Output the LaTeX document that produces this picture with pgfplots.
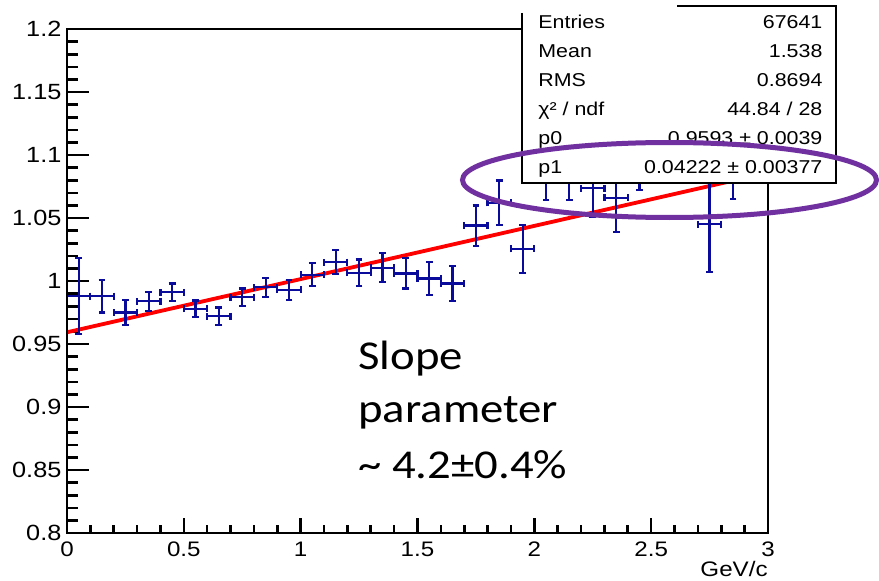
\documentclass[border=0pt]{standalone}
\usepackage{fontspec}
\usepackage{pgfplots}
\usepackage{pgfplotstable}
\pgfplotsset{compat=1.18}
\setmainfont{Liberation Sans}
\newfontfamily\rootfont[FakeStretch=1.15]{Liberation Sans}
\newfontfamily\slidefont[FakeStretch=1.14]{Carlito}
\definecolor{rootblue}{RGB}{10,10,155}
\definecolor{fitred}{RGB}{255,0,0}
\definecolor{markpurple}{RGB}{112,48,160}

% ratio per 0.1 GeV/c bin: centre, value, half bin width, stat. error
\pgfplotstableread{
x     y       ex    ey
0.05  0.988   0.05  0.030
0.15  0.988   0.05  0.013
0.25  0.975   0.05  0.010
0.35  0.984   0.05  0.0075
0.45  0.991   0.05  0.007
0.55  0.978   0.05  0.0066
0.65  0.972   0.05  0.007
0.75  0.987   0.05  0.007
0.85  0.995   0.05  0.0075
0.95  0.993   0.05  0.008
1.05  1.005   0.05  0.009
1.15  1.015   0.05  0.0095
1.25  1.0065  0.05  0.0105
1.35  1.0105  0.05  0.0115
1.45  1.006   0.05  0.012
1.55  1.002   0.05  0.013
1.65  0.998   0.05  0.014
1.75  1.044   0.05  0.016
1.85  1.062   0.05  0.0177
1.95  1.0255  0.05  0.019
2.05  1.084   0.05  0.020
2.15  1.085   0.05  0.021
2.25  1.0735  0.05  0.023
2.35  1.066   0.05  0.027
2.45  1.096   0.05  0.024
2.55  1.100   0.05  0.022
2.65  1.110   0.05  0.025
2.75  1.045   0.05  0.038
2.85  1.095   0.05  0.030
2.95  1.130   0.05  0.040
}\ratiotable

\pgfplotsset{
  frame/.style={
    scale only axis,
    width=350.5pt, height=252pt,
    at={(0,0)}, anchor=south west,
    xmin=0, xmax=3, ymin=0.8, ymax=1.2,
    minor tick num=4,
    tick pos=left,
    tick align=inside,
    axis line style={line width=1.1pt},
    tick style={line width=1.3pt, black},
    /pgf/number format/assume math mode=true,
    ticklabel style={font=\rootfont\fontsize{11pt}{13pt}\selectfont, inner sep=0pt},
    xticklabel style={anchor=north, yshift=-4.3pt, font=\rootfont\fontsize{10.5pt}{12pt}\selectfont},
    yticklabel style={anchor=east, xshift=-2.6pt},
    clip=false,
  },
}

\begin{document}
\begin{tikzpicture}
\useasboundingbox (-33.5pt,-23.5pt) rectangle (406pt,266.5pt);
% y axis ticks and the data
\begin{axis}[frame,
  xtick=\empty,
  ytick={0.8,0.85,...,1.2},
  major tick length=11pt, minor tick length=5.5pt,
]
% fit: p0 + p1*x
\addplot[fitred, line width=1.9pt] coordinates {(0,0.9593) (3,1.08596)};
\addplot[draw=none, mark=none,
  error bars/.cd,
    x dir=both, x explicit, y dir=both, y explicit,
    error bar style={line width=1.1pt, draw=rootblue, solid},
    error mark options={rotate=90, mark size=1.7pt, line width=1.1pt, draw=rootblue, solid}]
  table[x=x, y=y, x error=ex, y error=ey] {\ratiotable};
\end{axis}
% x axis ticks (shorter than the y ones)
\begin{axis}[frame,
  ytick=\empty,
  xtick={0,0.5,...,3},
  major tick length=7.5pt, minor tick length=3.8pt,
]
\end{axis}

% axis title
\node[font=\rootfont\fontsize{10.5pt}{12pt}\selectfont, anchor=base east, inner sep=0pt]
  at (350.5pt,-21.8pt) {GeV/c};

% statistics box
\fill[white] (227.5pt,175pt) rectangle (384.5pt,263.5pt);
\draw[line width=0.8pt] (227.5pt,260pt) -- (227.5pt,175pt) -- (384.5pt,175pt)
  -- (384.5pt,263.5pt) -- (305pt,263.5pt);
\begin{scope}[every node/.style={font=\rootfont\fontsize{9.3pt}{11pt}\selectfont, inner sep=0pt}]
  \node[anchor=base west] at (235.5pt,252.4pt) {Entries};
  \node[anchor=base east] at (377.9pt,252.4pt) {67641};
  \node[anchor=base west] at (235.5pt,237.9pt) {Mean};
  \node[anchor=base east] at (377.9pt,237.9pt) {1.538};
  \node[anchor=base west] at (235.5pt,223.4pt) {RMS};
  \node[anchor=base east] at (377.9pt,223.4pt) {0.8694};
  \node[anchor=base west] at (235.5pt,208.9pt) {χ² / ndf};
  \node[anchor=base east] at (377.9pt,208.9pt) {44.84 / 28};
  \node[anchor=base west] at (235.5pt,194.4pt) {p0};
  \node[anchor=base east] at (377.9pt,194.4pt) {0.9593 ± 0.0039};
  \node[anchor=base west] at (235.5pt,179.9pt) {p1};
  \node[anchor=base east] at (377.9pt,179.9pt) {0.04222 ± 0.00377};
\end{scope}

% highlight of the slope parameter
\draw[markpurple, line width=2.5pt] (301.25pt,176.5pt) ellipse [x radius=103.5pt, y radius=18.75pt];

% annotation
\begin{scope}[every node/.style={font=\slidefont\fontsize{20.5pt}{27pt}\selectfont, inner sep=0pt, anchor=base west}]
  \node at (145.5pt,82pt) {Slope};
  \node at (145.5pt,55.5pt) {parameter};
  \node at (145.5pt,27.5pt) {\textasciitilde{} 4.2±0.4\%};
\end{scope}
\end{tikzpicture}
\end{document}
